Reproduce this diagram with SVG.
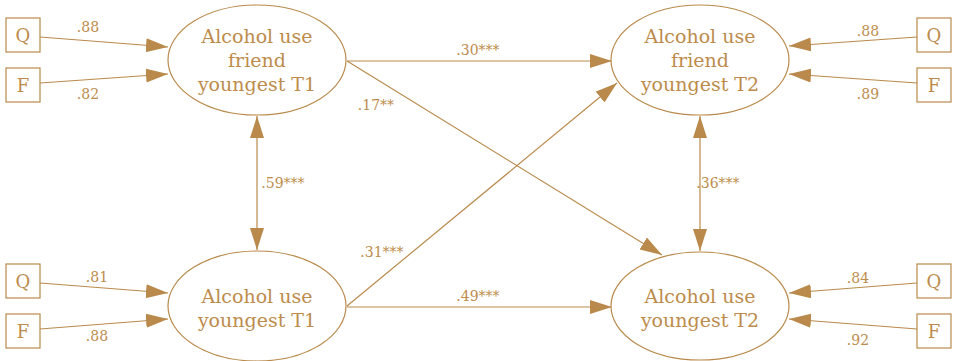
<svg xmlns="http://www.w3.org/2000/svg" width="954" height="361" viewBox="0 0 954 361">
  <style>
    .node ellipse, .node rect { fill: #ffffff; stroke: #b98a4b; stroke-width: 1.2; }
    .node text { font-family: "DejaVu Serif", serif; font-size: 19px; fill: #bd8c4c; text-anchor: middle; }
    .ind text { font-size: 18px; }
    .edges line { stroke: #b98a4b; stroke-width: 1.2; marker-end: url(#head); }
    .edges line.both { marker-start: url(#head); }
    .lbl { font-family: "DejaVu Serif", serif; font-size: 14px; fill: #bd8c4c; text-anchor: middle; }
  </style>
  <defs>
    <marker id="head" markerUnits="userSpaceOnUse" markerWidth="23" markerHeight="15" refX="22" refY="7" orient="auto-start-reverse">
      <path d="M0,0 L22,7 L0,14 z" fill="#b98a4b"/>
    </marker>
  </defs>
  <rect width="954" height="361" fill="#ffffff"/>

  <!-- connectors -->
  <g class="edges">
    <line x1="40" y1="37" x2="168" y2="47"/>
    <line x1="40" y1="83" x2="168" y2="74"/>
    <line x1="40" y1="283" x2="168" y2="293"/>
    <line x1="40" y1="329" x2="168" y2="319"/>
    <line x1="917" y1="37" x2="789" y2="46"/>
    <line x1="917" y1="83" x2="789" y2="74"/>
    <line x1="917" y1="283" x2="789" y2="293"/>
    <line x1="917" y1="329" x2="789" y2="319"/>
    <line x1="347" y1="61" x2="612" y2="61"/>
    <line x1="347" y1="307" x2="612" y2="307"/>
    <line x1="347" y1="61" x2="662" y2="255"/>
    <line x1="347" y1="306" x2="617" y2="83"/>
    <line class="both" x1="257" y1="116" x2="257" y2="250"/>
    <line class="both" x1="700" y1="116" x2="700" y2="251"/>
  </g>

  <!-- path coefficients -->
  <g>
    <text class="lbl" x="88" y="32">.88</text>
    <text class="lbl" x="88" y="99">.82</text>
    <text class="lbl" x="97" y="282">.81</text>
    <text class="lbl" x="97" y="341">.88</text>
    <text class="lbl" x="868" y="36">.88</text>
    <text class="lbl" x="868" y="99">.89</text>
    <text class="lbl" x="858" y="283">.84</text>
    <text class="lbl" x="858" y="345">.92</text>
    <text class="lbl" x="478" y="55">.30***</text>
    <text class="lbl" x="376" y="110">.17**</text>
    <text class="lbl" x="382" y="257">.31***</text>
    <text class="lbl" x="478" y="301">.49***</text>
    <text class="lbl" x="283" y="188">.59***</text>
    <text class="lbl" x="718" y="188">.36***</text>
  </g>

  <!-- indicators -->
  <g id="q1" class="node ind"><rect x="6" y="18" width="34" height="34"/><text x="23" y="42">Q</text></g>
  <g id="f1" class="node ind"><rect x="6" y="68" width="34" height="34"/><text x="23" y="92">F</text></g>
  <g id="q2" class="node ind"><rect x="6" y="264" width="34" height="34"/><text x="23" y="288">Q</text></g>
  <g id="f2" class="node ind"><rect x="6" y="314" width="34" height="34"/><text x="23" y="338">F</text></g>
  <g id="q3" class="node ind"><rect x="917" y="18" width="34" height="34"/><text x="934" y="42">Q</text></g>
  <g id="f3" class="node ind"><rect x="917" y="68" width="34" height="34"/><text x="934" y="92">F</text></g>
  <g id="q4" class="node ind"><rect x="917" y="264" width="34" height="34"/><text x="934" y="288">Q</text></g>
  <g id="f4" class="node ind"><rect x="917" y="314" width="34" height="34"/><text x="934" y="338">F</text></g>

  <!-- latent variables -->
  <g id="friend_t1" class="node">
    <ellipse cx="257" cy="60" rx="89" ry="55"/>
    <text x="257" y="43">Alcohol use</text>
    <text x="257" y="67">friend</text>
    <text x="257" y="91">youngest T1</text>
  </g>
  <g id="friend_t2" class="node">
    <ellipse cx="700" cy="60" rx="89" ry="55"/>
    <text x="700" y="43">Alcohol use</text>
    <text x="700" y="67">friend</text>
    <text x="700" y="91">youngest T2</text>
  </g>
  <g id="youngest_t1" class="node">
    <ellipse cx="257" cy="306" rx="89" ry="55"/>
    <text x="257" y="303">Alcohol use</text>
    <text x="257" y="327">youngest T1</text>
  </g>
  <g id="youngest_t2" class="node">
    <ellipse cx="700" cy="306" rx="89" ry="54"/>
    <text x="700" y="303">Alcohol use</text>
    <text x="700" y="327">youngest T2</text>
  </g>
</svg>
